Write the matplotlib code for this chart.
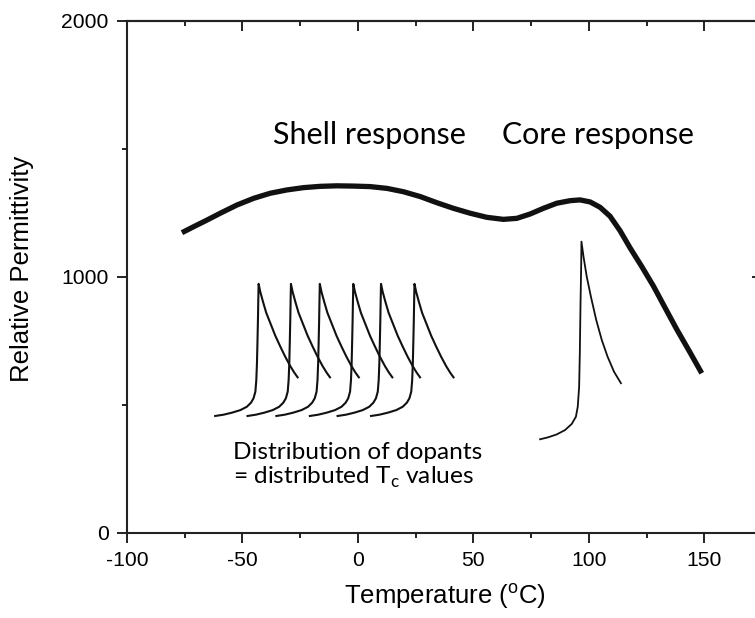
import numpy as np
import matplotlib.pyplot as plt
from matplotlib.ticker import MultipleLocator

plt.rcParams['font.family'] = ['Liberation Sans', 'DejaVu Sans']
plt.rcParams['axes.unicode_minus'] = False

# broad dielectric envelope of the core-shell grain
env_t = [-76.2, -71.2, -65.4, -59.6, -52.4, -45.2, -38, -30.7, -23.5, -16.3, -9.1,
         -1.9, 5.3, 12.6, 19.7, 27, 34.2, 41.4, 48.6, 55.8, 63, 68.8, 74.6, 80.3,
         86.1, 91.9, 96.2, 100.6, 104.9, 109.2, 113.5, 117.9, 122.9, 128, 133,
         138.1, 143.9, 148.9]
env_eps = [1172, 1195, 1221, 1248, 1280, 1306, 1326, 1339, 1348, 1353, 1355,
           1354, 1352, 1345, 1332, 1313, 1289, 1267, 1248, 1232, 1224, 1228, 1245, 1267,
           1287, 1297, 1300, 1292, 1271, 1236, 1180, 1112, 1040, 963, 879,
           794, 703, 623]

# one Curie peak of the shell, as offsets from its Tc
peak_dt = [-18.8, -15.2, -11.5, -7.9, -5.1, -3.3, -2.2, -1.4, -1.0, -0.72, -0.51,
           -0.29, -0.14, 0, 0.72, 1.9, 3.3, 5.1, 7.2, 9.4, 11.5, 13.7, 15.4, 16.9]
peak_eps = [456, 461, 469, 479, 492, 508, 525, 551, 596, 662, 740,
            831, 909, 972, 941, 902, 859, 818, 770, 727, 688, 651, 626, 607]
shell_tc = [-43, -29, -16.5, -2, 10, 24.5]

# Curie peak of the undoped core
core_t = [78.9, 82.5, 86.1, 89.7, 92.6, 94.4, 95.2, 95.8, 96.1, 96.4, 96.7, 96.8,
          97.7, 99.1, 100.9, 103.2, 105.6, 108.1, 110.9, 113.9]
core_eps = [365, 373, 384, 401, 425, 453, 492, 570, 701, 896, 1052, 1137,
            1078, 1000, 922, 831, 753, 688, 629, 584]

fig = plt.figure(figsize=(7.55, 6.18), dpi=100)
ax = fig.add_axes([0.1682, 0.1380, 0.8411, 0.8285])

ax.plot(env_t, env_eps, color='#111111', lw=3.8, solid_capstyle='butt',
        solid_joinstyle='round')
for tc in shell_tc:
    ax.plot(tc + np.array(peak_dt), peak_eps, color='#111111', lw=1.5,
            solid_joinstyle='round')
ax.plot(core_t, core_eps, color='#111111', lw=1.3, solid_joinstyle='round')

ax.set_xlim(-100, 175)
ax.set_ylim(0, 2000)
ax.set_xticks([-100, -50, 0, 50, 100, 150])
ax.set_yticks([0, 1000, 2000])
ax.xaxis.set_minor_locator(MultipleLocator(25))
ax.yaxis.set_minor_locator(MultipleLocator(500))

ax.tick_params(which='major', direction='out', length=7.2, width=1.4,
               color='#222222', pad=6, labelsize=15.2)
ax.tick_params(which='minor', direction='out', length=3.6, width=1.4, color='#222222')
for s in ax.spines.values():
    s.set_linewidth(1.5)
    s.set_color('#222222')

# inward ticks on the top and right frame
secx = ax.secondary_xaxis('top')
secx.set_xticks([-100, -50, 0, 50, 100, 150])
secx.xaxis.set_minor_locator(MultipleLocator(25))
secx.tick_params(which='major', direction='in', length=7.2, width=1.4,
                 color='#222222', labeltop=False)
secx.tick_params(which='minor', direction='in', length=3.6, width=1.4, color='#222222')
secy = ax.secondary_yaxis('right')
secy.set_yticks([0, 1000, 2000])
secy.yaxis.set_minor_locator(MultipleLocator(500))
secy.tick_params(which='major', direction='in', length=7.2, width=1.4,
                 color='#222222', labelright=False)
secy.tick_params(which='minor', direction='in', length=3.6, width=1.4, color='#222222')
for sa in (secx, secy):
    for s in sa.spines.values():
        s.set_linewidth(1.5)
        s.set_color('#222222')

ax.set_xlabel(r'Temperature ($^\mathregular{o}$C)', fontsize=18.5)
ax.set_ylabel('Relative Permittivity', fontsize=18.5)
ax.xaxis.set_label_coords(0.5, -0.094)
ax.yaxis.set_label_coords(-0.147, 0.515)

note_font = ['Lato', 'DejaVu Sans']
ax.text(-36.7, 1518, 'Shell response', fontfamily=note_font, fontsize=22, va='baseline')
ax.text(62.3, 1518, 'Core response', fontfamily=note_font, fontsize=21.8, va='baseline')
ax.text(-53.9, 287, 'Distribution of dopants', fontfamily=note_font, fontsize=17.6,
        va='baseline')
ax.text(-53.9, 190, r'= distributed T$_\mathregular{c}$ values', fontfamily=note_font,
        fontsize=17.6, va='baseline')

fig.savefig('out.png', dpi=100)
